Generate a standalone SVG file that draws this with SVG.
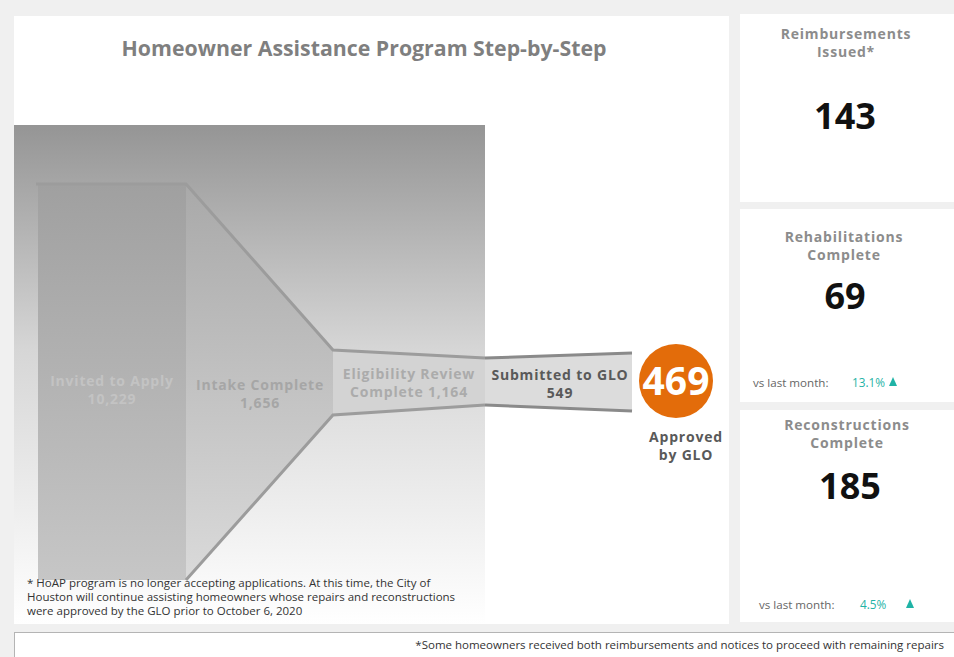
<svg xmlns="http://www.w3.org/2000/svg" width="954" height="657" viewBox="0 0 954 657">
<defs>
<linearGradient id="bgGrad" x1="0" y1="0" x2="0" y2="1">
<stop offset="0" stop-color="#959595"/>
<stop offset="0.45" stop-color="#d6d6d6"/>
<stop offset="1" stop-color="#ffffff"/>
</linearGradient>
<linearGradient id="invGrad" gradientUnits="userSpaceOnUse" x1="0" y1="184" x2="0" y2="580">
<stop offset="0" stop-color="#a0a0a0"/>
<stop offset="1" stop-color="#c6c6c6"/>
</linearGradient>
<linearGradient id="intGrad" gradientUnits="userSpaceOnUse" x1="0" y1="184" x2="0" y2="580">
<stop offset="0" stop-color="#a9a9a9"/>
<stop offset="1" stop-color="#dadada"/>
</linearGradient>
<style>
.panel{fill:#ffffff}
.edge{fill:none;stroke:#9c9c9c;stroke-width:3}
.edge2{fill:none;stroke:#8a8a8a;stroke-width:3}
.t{font-family:"Open Sans","Liberation Sans",sans-serif;font-weight:700;text-anchor:middle}
.ttl{fill:#7f7f7f;font-size:21.3px}
.faint{font-size:14px;letter-spacing:0.8px}
.kpiT{fill:#8c8c8c;font-size:14px;letter-spacing:0.8px}
.kpiN{fill:#111111;font-size:36px}
.vs{font-family:"Open Sans","Liberation Sans",sans-serif;font-size:11.6px;fill:#666666}
.pct{font-family:"Open Sans","Liberation Sans",sans-serif;font-size:11.8px;fill:#1fb3a6}
.note{font-family:"Open Sans","Liberation Sans",sans-serif;font-size:11.5px;fill:#333333}
</style>
</defs>
<rect x="0" y="0" width="954" height="657" fill="#f0f0f0"/>
<g id="main-panel">
<rect class="panel" x="14" y="16" width="715" height="608"/>
<text class="t ttl" x="364" y="56">Homeowner Assistance Program Step-by-Step</text>
<rect x="14" y="125" width="471" height="499" fill="url(#bgGrad)"/>
</g>
<g id="node-invited">
<rect x="38" y="184" width="148" height="396" fill="url(#invGrad)"/>
<text class="t faint" x="112" y="386" fill="#c3c3c3">Invited to Apply</text>
<text class="t faint" x="112" y="404" fill="#c3c3c3">10,229</text>
</g>
<g id="node-intake">
<polygon points="186,184 333,350 333,415 186,580" fill="url(#intGrad)"/>
<text class="t faint" x="260" y="390" fill="#a6a6a6">Intake Complete</text>
<text class="t faint" x="260" y="408" fill="#a6a6a6">1,656</text>
</g>
<g id="node-eligibility">
<polygon points="333,350 485,358 485,405 333,415" fill="#d3d3d3"/>
<text class="t faint" x="409" y="379" fill="#ababab">Eligibility Review</text>
<text class="t faint" x="409" y="397" fill="#ababab">Complete 1,164</text>
</g>
<g id="node-submitted">
<polygon points="485,358 632,353 632,411 485,405" fill="#dcdcdc"/>
<text class="t faint" x="560" y="380" fill="#595959">Submitted to GLO</text>
<text class="t faint" x="560" y="398" fill="#595959">549</text>
</g>
<g id="connectors">
<path class="edge" d="M36,184 H186 L333,350 L485,358"/>
<path class="edge" d="M186,580 L333,415 L485,405"/>
<path class="edge2" d="M485,358 L632,353"/>
<path class="edge2" d="M485,405 L632,411"/>
</g>
<g id="node-approved">
<circle cx="676" cy="381" r="37" fill="#e36c0a"/>
<text class="t" x="676" y="395" fill="#ffffff" font-size="39">469</text>
<text class="t faint" x="686" y="442" fill="#595959">Approved</text>
<text class="t faint" x="686" y="460" fill="#595959">by GLO</text>
</g>
<g id="kpi-reimbursements">
<rect class="panel" x="740" y="14" width="214" height="188"/>
<text class="t kpiT" x="846" y="39">Reimbursements</text>
<text class="t kpiT" x="846" y="57">Issued*</text>
<text class="t kpiN" x="845" y="129">143</text>
</g>
<g id="kpi-rehabilitations">
<rect class="panel" x="740" y="209" width="214" height="193"/>
<text class="t kpiT" x="844" y="242">Rehabilitations</text>
<text class="t kpiT" x="844" y="260">Complete</text>
<text class="t kpiN" x="845" y="309">69</text>
<text class="vs" x="753" y="387">vs last month:</text>
<text class="pct" x="852" y="387">13.1%</text>
<polygon points="893,377 897,386 889,386" fill="#1fb3a6"/>
</g>
<g id="kpi-reconstructions">
<rect class="panel" x="740" y="410" width="214" height="212"/>
<text class="t kpiT" x="847" y="430">Reconstructions</text>
<text class="t kpiT" x="847" y="448">Complete</text>
<text class="t kpiN" x="850" y="499">185</text>
<text class="vs" x="759" y="609">vs last month:</text>
<text class="pct" x="860" y="609">4.5%</text>
<polygon points="910,599 914,608 906,608" fill="#1fb3a6"/>
</g>
<g id="footnote">
<text class="note" x="27" y="587">* HoAP program is no longer accepting applications. At this time, the City of</text>
<text class="note" x="27" y="601">Houston will continue assisting homeowners whose repairs and reconstructions</text>
<text class="note" x="27" y="615">were approved by the GLO prior to October 6, 2020</text>
</g>
<g id="bottom-bar">
<rect x="14.5" y="632.5" width="945" height="30" fill="#ffffff" stroke="#b4b4b4" stroke-width="1"/>
<text class="note" x="944" y="649" text-anchor="end" fill="#444444" font-size="11.45">*Some homeowners received both reimbursements and notices to proceed with remaining repairs</text>
</g>
</svg>
